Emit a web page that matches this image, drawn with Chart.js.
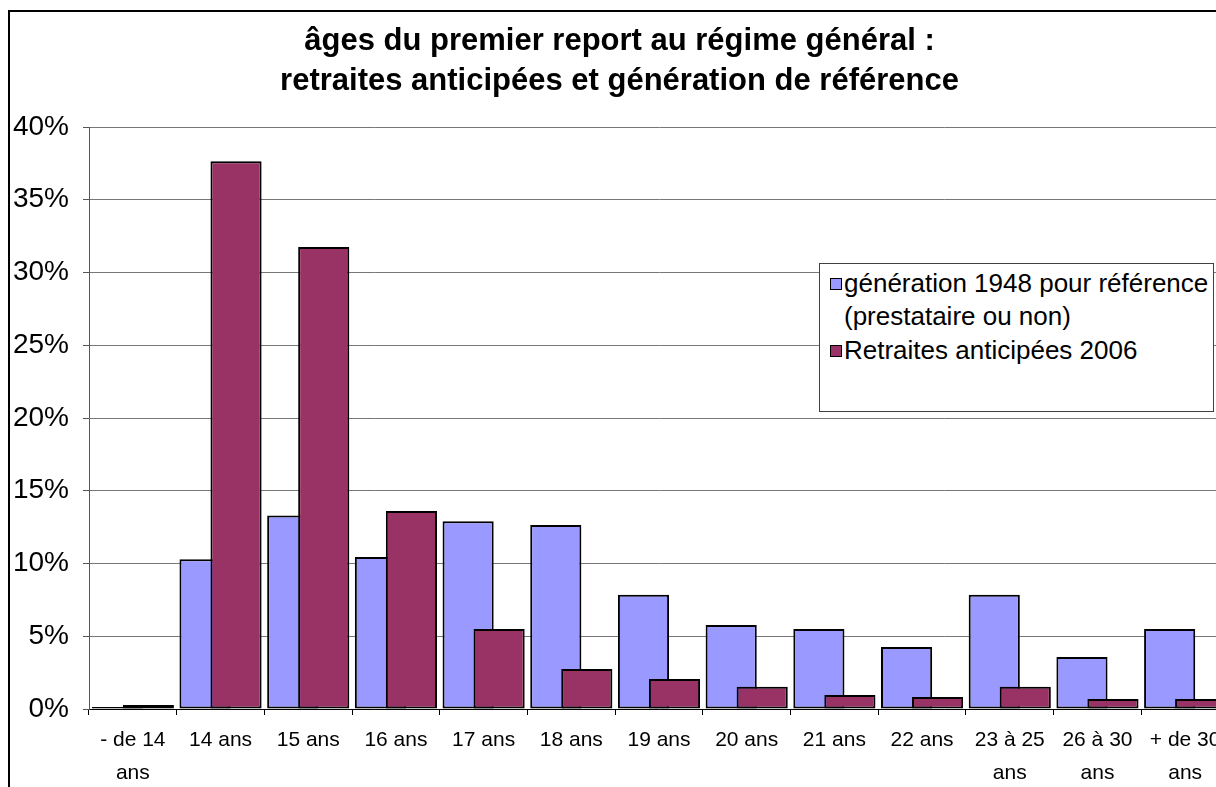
<!DOCTYPE html>
<html>
<head>
<meta charset="utf-8">
<script src="https://cdn.jsdelivr.net/npm/chart.js@4.4.1/dist/chart.umd.min.js"></script>
<style>
  html, body { margin: 0; padding: 0; background: #fff; overflow: hidden; }
  body { width: 1216px; height: 787px; position: relative; font-family: "Liberation Sans", Arial, sans-serif; }
  #frame { position: absolute; left: 8px; top: 10px; width: 1300px; height: 800px; border: 2px solid #000; background: #fff; }
  #legend { position: absolute; left: 819px; top: 263px; width: 393px; height: 147px; border: 1px solid #404040; background: #fff; font-size: 26px; color: #000; }
  #legend .item { position: absolute; left: 24px; line-height: 33px; white-space: nowrap; }
  #legend .box { position: absolute; left: -14px; top: 11px; width: 10px; height: 10px; border: 1px solid #000; }
</style>
</head>
<body>
<div id="frame"><canvas id="chart"></canvas></div>
<div id="legend"></div>
<script>
// categories (multi-line labels like the original)
const categories = [
    ['- de 14', 'ans'], '14 ans', '15 ans', '16 ans', '17 ans', '18 ans', '19 ans',
    '20 ans', '21 ans', '22 ans', ['23 à 25', 'ans'], ['26 à 30', 'ans'], ['+ de 30', 'ans']
];

// values in %
const generation1948 = [0.13, 10.3, 13.3, 10.45, 12.9, 12.65, 7.85, 5.77, 5.5, 4.26, 7.85, 3.57, 5.5];
const anticipees2006 = [0.28, 37.65, 31.75, 13.6, 5.5, 2.75, 2.06, 1.53, 0.96, 0.82, 1.53, 0.69, 0.69];

const seriesNames = [['génération 1948 pour référence', '(prestataire ou non)'], ['Retraites anticipées 2006']];
const titleLines = ['âges du premier report au régime général :', 'retraites anticipées et génération de référence'];

const blue = '#9999FF';
const purple = '#993366';

// draw the datasets in index order so the second bar sits over the first
const drawOrder = {
    id: 'drawOrder',
    beforeDatasetsDraw(chart) {
        chart.getSortedVisibleDatasetMetas().forEach(m => m.controller.draw());
        return false;
    }
};

const ctx = document.getElementById('chart').getContext('2d');
new Chart(ctx, {
    type: 'bar',
    data: {
        labels: categories,
        datasets: [
            { label: seriesNames[0].join(' '), data: generation1948, backgroundColor: blue, borderColor: '#000', borderWidth: 2, borderSkipped: false },
            { label: seriesNames[1][0], data: anticipees2006, backgroundColor: purple, borderColor: '#000', borderWidth: 2, borderSkipped: false }
        ]
    },
    options: {
        responsive: true,
        maintainAspectRatio: false,
        animation: false,
        categoryPercentage: 0.707,
        barPercentage: 1.65,
        layout: { padding: { left: 0, right: 81, top: 0, bottom: 0 } },
        plugins: {
            legend: { display: false },
            tooltip: { enabled: false },
            title: {
                display: true,
                text: titleLines,
                color: '#000',
                font: { family: 'Liberation Sans', size: 31, weight: 'bold', lineHeight: '40px' },
                padding: { top: 9, bottom: 26 }
            }
        },
        scales: {
            x: {
                afterFit: s => { s.height = 103; },
                grid: { display: true, drawOnChartArea: false, drawTicks: true, tickLength: 6, color: '#000', offset: true },
                border: { color: '#000', width: 1 },
                ticks: { color: '#000', font: { family: 'Liberation Sans', size: 21, lineHeight: '33px' }, padding: 9, maxRotation: 0, autoSkip: false }
            },
            y: {
                min: 0,
                max: 40,
                afterFit: s => { s.width = 79; },
                grid: { color: '#777', tickLength: 6, tickColor: '#555' },
                border: { color: '#555', width: 1 },
                ticks: { stepSize: 5, color: '#000', padding: 14, font: { family: 'Liberation Sans', size: 28 }, callback: v => v + '%' }
            }
        }
    },
    plugins: [drawOrder]
});

// legend as real text in a box inside the plot
const legendBox = document.getElementById('legend');
const legendColors = [blue, purple];
let legendY = 3;
seriesNames.forEach((lines, i) => {
    const item = document.createElement('div');
    item.className = 'item';
    item.style.top = legendY + 'px';
    item.innerHTML = '<span class="box" style="background:' + legendColors[i] + '"></span>' + lines.join('<br>');
    legendBox.appendChild(item);
    legendY += lines.length * 33 + 1;
});
</script>
</body>
</html>
